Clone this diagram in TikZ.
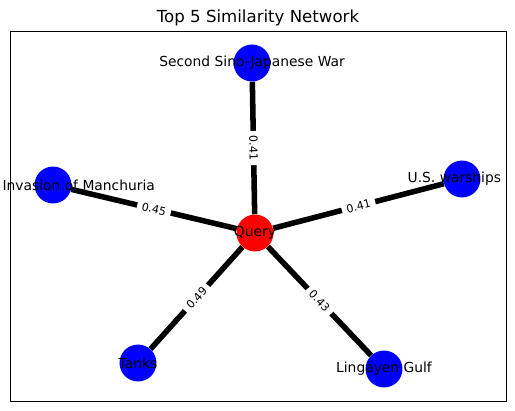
\documentclass[tikz,border=0pt]{standalone}
\usepackage{fontspec}
\setmainfont{DejaVu Sans}
\usetikzlibrary{positioning,backgrounds}

\begin{document}
\begin{tikzpicture}[x=0.72bp,y=-0.72bp,
    main node/.style={circle,fill=blue,minimum size=26.6bp,inner sep=0pt,
      label distance=0pt,label/.append style={font=\fontsize{10}{12}\selectfont,inner sep=0pt}},
    query node/.style={main node,fill=red},
    weight/.style={sloped,midway,fill=white,rounded corners=2pt,inner sep=3.5pt,
      font=\fontsize{8}{9.6}\selectfont},
    link/.style={line width=4pt,draw=black}]

    \useasboundingbox (0,0) rectangle (515,411);
    \node (Title) at (258,17.5) {\fontsize{12}{14}\selectfont Top 5 Similarity Network};
    \draw[line width=0.8pt] (10.5,31.5) rectangle (506.5,401.5);

    \node[query node, label={center:Query}] (Query) at (255,233) {};
    \node[main node, label={center:Second Sino-Japanese War}] (SecondSino) at (252,63) {};
    \node[main node, label={[xshift=18.5bp]center:Invasion of Manchuria}] (Manchuria) at (53,185) {};
    \node[main node, label={[xshift=-5.5bp]center:U.S. warships}] (Warships) at (462,179) {};
    \node[main node, label={center:Tanks}] (Tanks) at (138,363) {};
    \node[main node, label={center:Lingayen Gulf}] (Lingayen) at (384,369) {};

    \begin{scope}[on background layer]
    \draw [link] (Query) -- node[weight] {0.41} (SecondSino);
    \draw [link] (Query) -- node[weight] {0.45} (Manchuria);
    \draw [link] (Query) -- node[weight] {0.41} (Warships);
    \draw [link] (Query) -- node[weight] {0.49} (Tanks);
    \draw [link] (Query) -- node[weight] {0.43} (Lingayen);
    \end{scope}
\end{tikzpicture}
\end{document}
